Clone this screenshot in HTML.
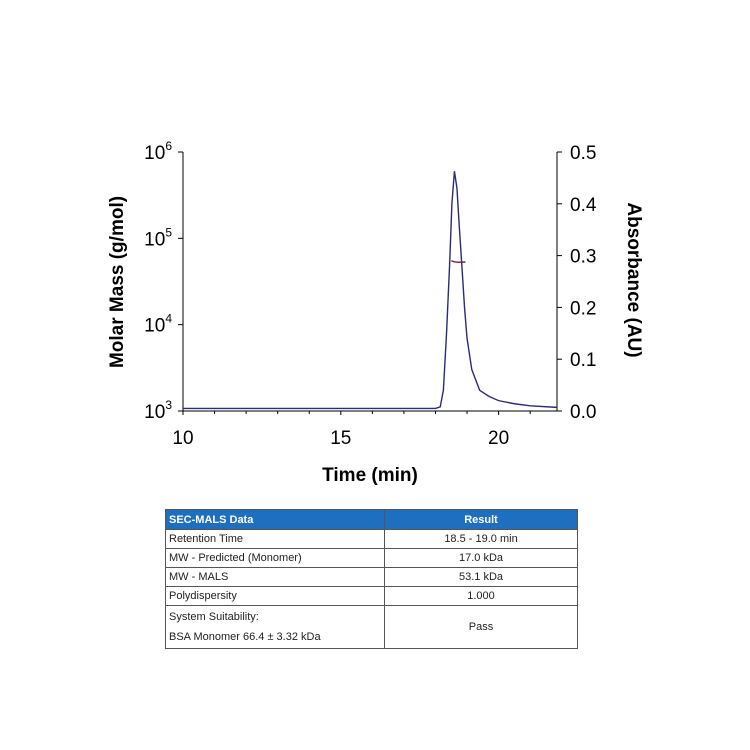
<!DOCTYPE html>
<html><head><meta charset="utf-8"><style>
body{margin:0;width:750px;height:750px;background:#fff;font-family:"Liberation Sans",sans-serif;}
#wrap{position:relative;width:750px;height:750px;}
table{position:absolute;left:165px;top:509px;width:413px;border-collapse:collapse;font-family:"Liberation Sans",sans-serif;font-size:11px;color:#222;}
td{border:1px solid #555;padding:0 3px;height:18px;line-height:18px;}
td.r{text-align:center;}
tr.h td{background:#1f6fc0;color:#fff;font-weight:bold;height:19px;}
</style></head><body><div id="wrap">
<svg id="chart" width="750" height="500" style="position:absolute;left:0;top:0" font-family="Liberation Sans, sans-serif"></svg>
<table>
<tr class="h"><td style="width:212px">SEC-MALS Data</td><td class="r">Result</td></tr>
<tr><td>Retention Time</td><td class="r">18.5 - 19.0 min</td></tr>
<tr><td>MW - Predicted (Monomer)</td><td class="r">17.0 kDa</td></tr>
<tr><td>MW - MALS</td><td class="r">53.1 kDa</td></tr>
<tr><td>Polydispersity</td><td class="r">1.000</td></tr>
<tr><td style="line-height:20px;padding-top:1px;padding-bottom:1px">System Suitability:<br>BSA Monomer 66.4 ± 3.32 kDa</td><td class="r">Pass</td></tr>
</table>
</div>
<script>
const times=[10,18.0,18.15,18.25,18.35,18.45,18.52,18.6,18.68,18.75,18.83,18.92,19.0,19.15,19.4,19.7,20,20.5,21,21.85];
const absorbance=[.005,.005,.008,.04,.15,.286,.40,.463,.43,.36,.286,.20,.14,.08,.04,.028,.02,.014,.01,.007];
const massTimes=[18.5,18.6,18.7,18.8,18.95];
const massValues=[55000,53500,53000,53000,53200];
const xTicks=[10,15,20];
const leftExp=[3,4,5,6];
const rightTicks=[0,0.1,0.2,0.3,0.4,0.5];
const L=183,R=557,T=152,B=411,X0=10,X1=21.85;
const sx=t=>L+(t-X0)/(X1-X0)*(R-L);
const sy=a=>B-a/0.5*(B-T);
const sm=m=>B-(Math.log10(m)-3)/3*(B-T);
const svg=document.getElementById('chart');
const NS='http://www.w3.org/2000/svg';
function mk(tag,at,parent){const e=document.createElementNS(NS,tag);for(const k in at)e.setAttribute(k,at[k]);(parent||svg).appendChild(e);return e;}
let e;
e=mk('line',{x1:L,y1:T,x2:L,y2:B,stroke:'#000','stroke-width':1});


e=mk('line',{x1:R,y1:T,x2:R,y2:B,stroke:'#000','stroke-width':1});


e=mk('line',{x1:L,y1:B,x2:R,y2:B,stroke:'#000','stroke-width':1});


xTicks.forEach(t=>{const x=sx(t);mk('line',{x1:x,y1:B,x2:x,y2:B+4,stroke:'#000'});
e=mk('text',{x:x,y:B+33,'text-anchor':'middle','font-size':19});e.textContent=t;

});
[11,12,13,14,16,17,18,19,21].forEach(t=>mk('line',{x1:sx(t),y1:B,x2:sx(t),y2:B+3,stroke:'#000'}));
leftExp.forEach(p=>{const y=B-(p-3)/3*(B-T);mk('line',{x1:L-5,y1:y,x2:L,y2:y,stroke:'#000'});
e=mk('text',{x:L-11,y:y+7,'text-anchor':'end','font-size':19});e.textContent='10';
const s=mk('tspan',{dy:-9,'font-size':12},e);s.textContent=p;

});
rightTicks.forEach(v=>{const y=sy(v);mk('line',{x1:R,y1:y,x2:R+5,y2:y,stroke:'#000'});
e=mk('text',{x:R+13,y:y+7,'font-size':19});e.textContent=v.toFixed(1);

});
e=mk('text',{x:370,y:481,'text-anchor':'middle','font-size':19,'font-weight':'bold'});e.textContent='Time (min)';


e=mk('text',{x:0,y:0,transform:'translate(123,282) rotate(-90)','text-anchor':'middle','font-size':19,'font-weight':'bold'});e.textContent='Molar Mass (g/mol)';


e=mk('text',{x:0,y:0,transform:'translate(628,280) rotate(90)','text-anchor':'middle','font-size':19,'font-weight':'bold'});e.textContent='Absorbance (AU)';


e=mk('polyline',{points:times.map((t,i)=>sx(t)+','+sy(absorbance[i])).join(' '),fill:'none',stroke:'#2a2a80','stroke-width':1.4});


e=mk('polyline',{points:massTimes.map((t,i)=>sx(t)+','+sm(massValues[i])).join(' '),fill:'none',stroke:'#8b1a1a','stroke-width':1.4});


</script></body></html>
